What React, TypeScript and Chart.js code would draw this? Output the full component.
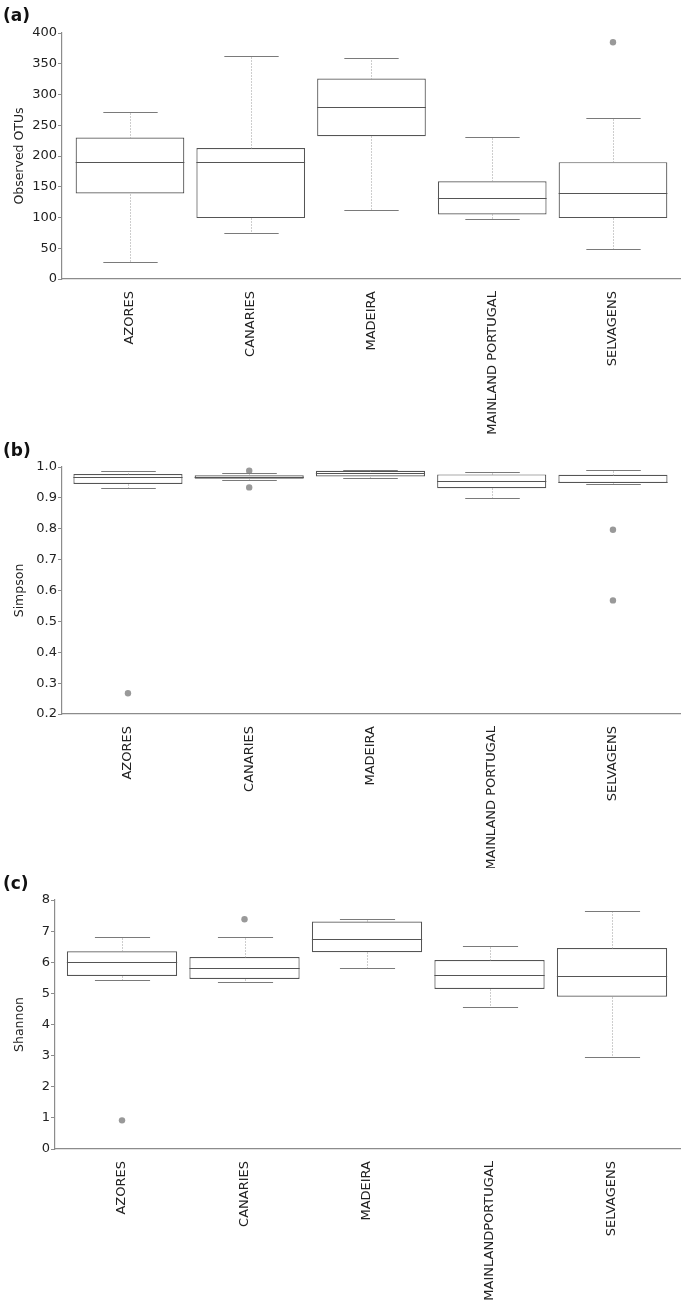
import React, { useEffect, useRef } from 'react';
import { Chart, registerables } from 'chart.js';

Chart.register(...registerables);

// ---------- data ----------
const categoriesAB = ['AZORES', 'CANARIES', 'MADEIRA', 'MAINLAND PORTUGAL', 'SELVAGENS'];
const categoriesC = ['AZORES', 'CANARIES', 'MADEIRA', 'MAINLANDPORTUGAL', 'SELVAGENS'];

// (a) Observed OTUs
const otuLower = [27, 74, 113, 98, 49];
const otuQ1 = [139, 99, 232, 105, 99];
const otuMedian = [190, 190, 279, 132, 140];
const otuQ3 = [230, 213, 326, 159, 190];
const otuUpper = [271, 362, 360, 231, 261];
const otuOutlierCat = [4];
const otuOutlierVal = [385];

// (b) Simpson
const simLower = [0.932, 0.958, 0.964, 0.898, 0.945];
const simQ1 = [0.945, 0.962, 0.969, 0.931, 0.948];
const simMedian = [0.966, 0.969, 0.979, 0.955, 0.953];
const simQ3 = [0.977, 0.973, 0.988, 0.976, 0.975];
const simUpper = [0.986, 0.981, 0.99, 0.985, 0.99];
const simOutlierCat = [0, 1, 1, 4, 4];
const simOutlierVal = [0.267, 0.988, 0.934, 0.797, 0.568];

// (c) Shannon
const shaLower = [5.44, 5.37, 5.82, 4.57, 2.97];
const shaQ1 = [5.56, 5.46, 6.32, 5.14, 4.89];
const shaMedian = [6.02, 5.82, 6.74, 5.58, 5.57];
const shaQ3 = [6.35, 6.17, 7.31, 6.07, 6.46];
const shaUpper = [6.81, 6.81, 7.39, 6.53, 7.64];
const shaOutlierCat = [0, 1];
const shaOutlierVal = [0.92, 7.38];

const FONT = 'DejaVu Sans';

type PanelProps = {
  tag: string;
  top: number;
  height: number;
  padTop: number;
  axisWidth: number;
  axisHeight: number;
  xMin: number;
  xMax: number;
  yMin: number;
  yMax: number;
  yStep: number;
  decimals: number;
  yTitle: string;
  labels: string[];
  lower: number[];
  q1: number[];
  median: number[];
  q3: number[];
  upper: number[];
  outCat: number[];
  outVal: number[];
};

function BoxPanel(p: PanelProps) {
  const ref = useRef<HTMLCanvasElement | null>(null);
  useEffect(() => {
    if (!ref.current) return;
    const whiskerPlugin = {
      id: 'whiskers',
      afterDatasetsDraw(chart: any) {
        const ctx = chart.ctx;
        const ys = chart.scales.y;
        const meta = chart.getDatasetMeta(0);
        ctx.save();
        ctx.lineWidth = 1;
        p.labels.forEach((_, i) => {
          const el: any = meta.data[i];
          if (!el) return;
          const cx = Math.round(el.x) + 0.5;
          const half = el.width / 2;
          const py = (v: number) => Math.round(ys.getPixelForValue(v)) + 0.5;
          const pU = py(p.upper[i]);
          const pL = py(p.lower[i]);
          const p1 = py(p.q1[i]);
          const p3 = py(p.q3[i]);
          const pM = py(p.median[i]);
          const line = (x1: number, y1: number, x2: number, y2: number) => {
            ctx.beginPath();
            ctx.moveTo(x1, y1);
            ctx.lineTo(x2, y2);
            ctx.stroke();
          };
          ctx.strokeStyle = '#9a9a9a';
          ctx.setLineDash([1, 2]);
          line(cx, p3, cx, pU);
          line(cx, p1, cx, pL);
          ctx.setLineDash([]);
          ctx.strokeStyle = '#7a7a7a';
          ctx.lineWidth = 1.2;
          line(cx - half / 2, pU, cx + half / 2, pU);
          line(cx - half / 2, pL, cx + half / 2, pL);
          ctx.strokeStyle = '#555555';
          line(el.x - half, pM, el.x + half, pM);
          ctx.lineWidth = 1;
        });
        ctx.restore();
      },
    };

    const chart = new Chart(ref.current, {
      type: 'bar',
      data: {
        datasets: [
          {
            type: 'bar',
            data: p.labels.map((_, i) => ({ x: i, y: [p.q1[i], p.q3[i]] })) as any,
            backgroundColor: '#ffffff',
            borderColor: '#555555',
            borderWidth: 1.2,
            borderSkipped: false,
            barPercentage: 0.9,
            categoryPercentage: 1,
          },
          {
            type: 'scatter',
            data: p.outCat.map((c, k) => ({ x: c, y: p.outVal[k] })),
            backgroundColor: '#999999',
            borderWidth: 0,
            pointRadius: 3.2,
          } as any,
        ],
      },
      options: {
        animation: false,
        responsive: true,
        maintainAspectRatio: false,
        layout: { padding: { top: p.padTop, right: 5, left: 0, bottom: 0 } },
        plugins: { legend: { display: false }, tooltip: { enabled: false } },
        scales: {
          x: {
            type: 'linear',
            offset: false,
            min: p.xMin,
            max: p.xMax,
            grid: { display: false, drawTicks: false, offset: false },
            border: { display: true, color: '#8c8c8c', width: 1.2 },
            afterBuildTicks: (scale: any) => {
              scale.ticks = p.labels.map((_, i) => ({ value: i }));
            },
            afterFit: (scale: any) => {
              scale.height = p.axisHeight;
            },
            ticks: {
              autoSkip: false,
              maxRotation: 90,
              minRotation: 90,
              padding: 12,
              color: '#222',
              font: { family: FONT, size: 13 },
              callback: (v: any) => p.labels[Math.round(Number(v))] ?? '',
            },
          },
          y: {
            type: 'linear',
            min: p.yMin,
            max: p.yMax,
            grid: { display: true, drawOnChartArea: false, drawTicks: true, tickLength: 4, color: '#8c8c8c' },
            border: { display: true, color: '#8c8c8c', width: 1.2 },
            afterFit: (scale: any) => {
              scale.width = p.axisWidth;
            },
            ticks: {
              stepSize: p.yStep,
              padding: 1,
              color: '#222',
              font: { family: FONT, size: 13 },
              callback: (v: any) => Number(v).toFixed(p.decimals),
            },
            title: {
              display: true,
              text: p.yTitle,
              color: '#222',
              font: { family: FONT, size: 12.5 },
              padding: { top: 12, bottom: 0 },
            },
          },
        },
      },
      plugins: [whiskerPlugin],
    } as any);
    return () => chart.destroy();
  }, []);

  return (
    <div style={{ position: 'absolute', left: 0, top: p.top, width: 685, height: p.height }}>
      <canvas ref={ref} />
      <div
        style={{
          position: 'absolute',
          left: 3,
          top: 5,
          fontFamily: FONT,
          fontWeight: 'bold',
          fontSize: 17,
          lineHeight: '20px',
          color: '#111',
        }}
      >
        {p.tag}
      </div>
    </div>
  );
}

export default function App() {
  return (
    <div style={{ position: 'absolute', left: 0, top: 0, width: 685, height: 1304, background: '#fff' }}>
      <BoxPanel
        tag="(a)"
        top={0}
        height={435}
        padTop={33}
        axisWidth={62}
        axisHeight={156}
        xMin={-0.563}
        xMax={4.555}
        yMin={0}
        yMax={400}
        yStep={50}
        decimals={0}
        yTitle="Observed OTUs"
        labels={categoriesAB}
        lower={otuLower}
        q1={otuQ1}
        median={otuMedian}
        q3={otuQ3}
        upper={otuUpper}
        outCat={otuOutlierCat}
        outVal={otuOutlierVal}
      />
      <BoxPanel
        tag="(b)"
        top={435}
        height={433}
        padTop={32}
        axisWidth={62}
        axisHeight={154}
        xMin={-0.544}
        xMax={4.553}
        yMin={0.2}
        yMax={1.0}
        yStep={0.1}
        decimals={1}
        yTitle="Simpson"
        labels={categoriesAB}
        lower={simLower}
        q1={simQ1}
        median={simMedian}
        q3={simQ3}
        upper={simUpper}
        outCat={simOutlierCat}
        outVal={simOutlierVal}
      />
      <BoxPanel
        tag="(c)"
        top={868}
        height={436}
        padTop={32}
        axisWidth={55}
        axisHeight={155}
        xMin={-0.547}
        xMax={4.555}
        yMin={0}
        yMax={8}
        yStep={1}
        decimals={0}
        yTitle="Shannon"
        labels={categoriesC}
        lower={shaLower}
        q1={shaQ1}
        median={shaMedian}
        q3={shaQ3}
        upper={shaUpper}
        outCat={shaOutlierCat}
        outVal={shaOutlierVal}
      />
    </div>
  );
}
